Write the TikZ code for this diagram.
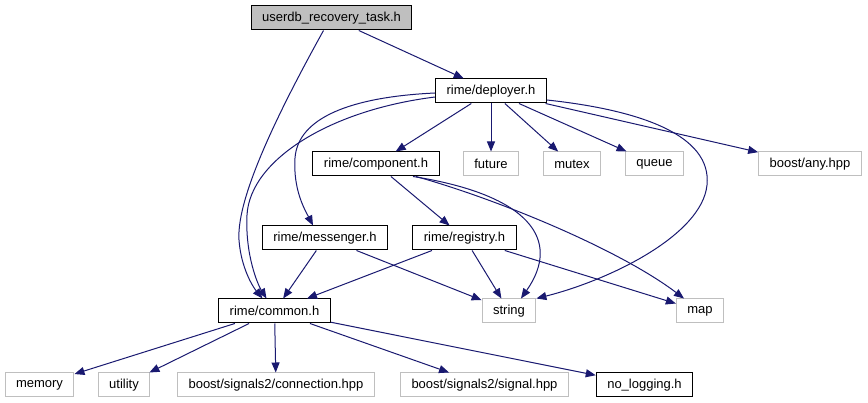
\documentclass[tikz,border=0pt]{standalone}
\usepackage{fontspec}
\setmainfont{Liberation Sans}
\usetikzlibrary{arrows.meta}
\definecolor{edgecol}{HTML}{191970}
\definecolor{extcol}{HTML}{BFBFBF}
\definecolor{rootcol}{HTML}{BFBFBF}

\begin{document}
\begin{tikzpicture}[x=1pt, y=-1pt,
  file/.style={draw=black, line width=1pt, minimum height=24pt, inner xsep=11pt,
               font=\fontsize{13}{15}\selectfont},
  ext/.style={file, draw=extcol},
  edge/.style={draw=edgecol, line width=1pt, -{Triangle[length=10pt, width=8pt]}}]
  \useasboundingbox (0,0) rectangle (868,403);
  \node[file, fill=rootcol] (task) at (331.5,18) {userdb\_recovery\_task.h};
  \node[file] (dep)   at (491,91)    {rime/deployer.h};
  \node[file] (comp)  at (376,164)   {rime/component.h};
  \node[ext]  (fut)   at (491,164)   {future};
  \node[ext]  (mtx)   at (572,164)   {mutex};
  \node[ext]  (que)   at (654.5,164) {queue};
  \node[ext]  (any)   at (810,164)   {boost/any.hpp};
  \node[file] (msg)   at (325,238)   {rime/messenger.h};
  \node[file] (reg)   at (464.5,238) {rime/registry.h};
  \node[file] (com)   at (274.5,311) {rime/common.h};
  \node[ext]  (str)   at (509,311)   {string};
  \node[ext]  (map)   at (700,311)   {map};
  \node[ext]  (mem)   at (39.5,385)  {memory};
  \node[ext]  (utl)   at (124,385)   {utility};
  \node[ext]  (conn)  at (276,385)   {boost/signals2/connection.hpp};
  \node[ext]  (sig)   at (484.5,385) {boost/signals2/signal.hpp};
  \node[file] (nolog) at (644.5,385) {no\_logging.h};
  % userdb_recovery_task.h
  \draw[edge] (task) -- (dep);
  \draw[edge] ([xshift=-8pt]task.south) .. controls (285,100) and (236,195) .. (239,240)
              .. controls (241,268) and (253,287) .. ([xshift=-12pt]com.north);
  % rime/deployer.h
  \draw[edge] (dep) -- (comp);
  \draw[edge] (dep) -- (fut);
  \draw[edge] (dep) -- (mtx);
  \draw[edge] (dep) -- (que);
  \draw[edge] (dep) -- (any);
  \draw[edge] ([yshift=-2pt]dep.west) .. controls (350,97) and (298,118) .. (295,158)
              .. controls (293,190) and (305,210) .. ([xshift=-12pt]msg.north);
  \draw[edge] ([yshift=-6pt]dep.west) .. controls (330,110) and (250,160) .. (247,215)
              .. controls (245,255) and (258,285) .. ([xshift=-8pt]com.north);
  \draw[edge] ([yshift=-9pt]dep.east) .. controls (640,110) and (712,135) .. (707,185)
              .. controls (702,235) and (610,280) .. (str.north east);
  % rime/component.h
  \draw[edge] (comp) -- (reg);
  \draw[edge] ([xshift=37pt]comp.south) .. controls (530,195) and (562,240) .. ([xshift=12pt]str.north);
  \draw[edge] ([xshift=40pt]comp.south) .. controls (500,200) and (620,250) .. ([xshift=-16pt]map.north);
  % rime/messenger.h, rime/registry.h
  \draw[edge] (msg) -- (com);
  \draw[edge] (msg) -- (str);
  \draw[edge] (reg) -- (com);
  \draw[edge] (reg) -- (str);
  \draw[edge] (reg) -- (map);
  % rime/common.h
  \draw[edge] (com) -- (mem);
  \draw[edge] (com) -- (utl);
  \draw[edge] (com) -- (conn);
  \draw[edge] (com) -- (sig);
  \draw[edge] (com) -- (nolog);
\end{tikzpicture}
\end{document}
